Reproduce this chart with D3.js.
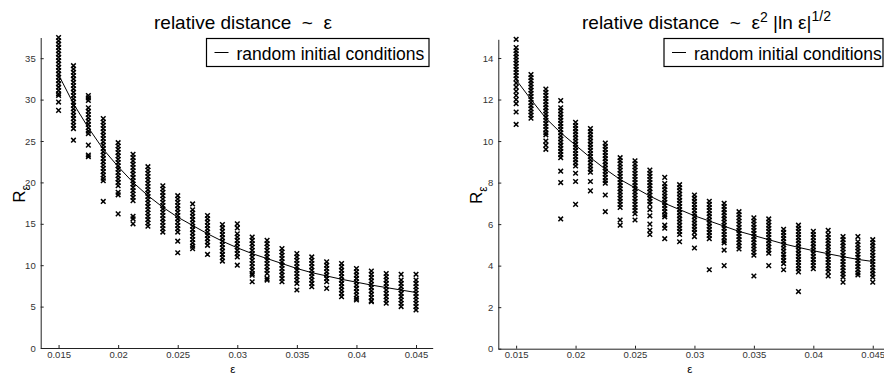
<!DOCTYPE html>
<html lang="en">
<head>
<meta charset="utf-8">
<title>R_eps scatter</title>
<script src="https://d3js.org/d3.v7.min.js"></script>
<style>
  body { margin: 0; background: #fff; }
  svg { display: block; font-family: "Liberation Sans", Arial, sans-serif; }
  text { white-space: pre; }
</style>
</head>
<body>
<svg width="884" height="375"></svg>
<script>
// epsilon values (columns)
const eps = [0.015, 0.01625, 0.0175, 0.01875, 0.02, 0.02125, 0.0225, 0.02375, 0.025,
             0.02625, 0.0275, 0.02875, 0.03, 0.03125, 0.0325, 0.03375, 0.035, 0.03625,
             0.0375, 0.03875, 0.04, 0.04125, 0.0425, 0.04375, 0.045];

// fitted curves
const fitLeft  = [33.0, 29.5, 26.6, 24.0, 21.9, 20.0, 18.4, 17.0, 15.8, 14.8, 13.8, 12.9, 12.1,
                  11.4, 10.8, 10.2, 9.6, 9.1, 8.7, 8.3, 7.95, 7.6, 7.3, 7.0, 6.7];
const fitRight = [12.95, 12.0, 11.1, 10.4, 9.8, 9.2, 8.65, 8.15, 7.75, 7.35, 7.0, 6.7, 6.4,
                  6.15, 5.9, 5.65, 5.45, 5.25, 5.05, 4.88, 4.72, 4.57, 4.43, 4.3, 4.2];

// R_eps for random initial conditions, one list per epsilon (left: ~eps)
const ptsLeft = [
  [37.5,37.1,36.7,36.3,35.9,35.5,35.1,34.7,34.3,33.9,33.5,33.1,32.7,32.3,31.9,31.5,31.1,30.7,30.5,29.7,28.7],
  [34.1,33.7,33.3,32.9,32.5,32.1,31.7,31.3,30.9,30.5,30.1,29.7,29.3,28.9,28.5,28.1,27.7,27.3,26.9,26.5,25.1],
  [30.5,30.2,29.9,29.0,28.6,28.2,27.8,27.4,27.0,26.6,26.2,25.9,24.5,23.3,23.1],
  [27.7,27.3,26.9,26.5,26.1,25.7,25.3,24.9,24.5,24.1,23.7,23.3,22.9,22.5,22.1,21.7,21.3,20.9,20.5,20.2,17.7],
  [24.8,24.4,24.0,23.6,23.2,22.8,22.4,22.0,21.6,21.2,20.8,20.4,20.0,19.6,18.8,18.5,16.2],
  [23.4,23.0,22.6,22.2,21.8,21.4,21.0,20.6,20.2,19.8,19.4,19.0,18.6,18.2,17.8,15.9,15.6,15.0],
  [21.9,21.5,21.1,20.7,20.3,19.9,19.5,19.1,18.7,18.3,17.9,17.5,17.1,16.7,16.3,15.9,15.5,15.1,14.7],
  [19.6,19.2,18.8,18.4,18.0,17.6,17.2,16.8,16.4,16.0,15.6,15.2,14.8,14.4,14.0],
  [18.4,18.0,17.6,17.2,16.8,16.4,16.0,15.6,15.2,14.8,14.4,14.0,12.9,11.5],
  [17.4,16.7,16.3,15.9,15.5,15.1,14.7,14.3,13.9,13.5,13.1,12.7,12.3,12.0],
  [16.0,15.6,15.2,14.8,14.4,14.0,13.6,13.2,12.8,12.4,11.3],
  [14.9,14.5,14.1,13.7,13.3,12.9,12.5,12.1,11.7,11.3,10.9,10.5],
  [15.0,14.5,13.8,13.4,13.0,12.6,12.2,11.8,11.4,11.0,10.0],
  [13.4,13.0,12.6,12.2,11.8,11.4,11.0,10.6,10.2,9.8,9.4,9.0,8.8,8.0],
  [13.0,12.6,12.2,11.8,11.4,11.0,10.6,10.2,9.8,9.4,9.0,8.4,8.2],
  [12.0,11.6,11.2,10.8,10.4,10.0,9.6,9.2,8.8,8.4,8.0],
  [11.4,11.0,10.6,10.2,9.8,9.4,9.0,8.6,8.2,7.8,7.0],
  [11.0,10.6,10.2,9.8,9.4,9.0,8.6,8.2,7.8,7.4],
  [10.4,10.0,9.6,9.2,8.8,8.4,8.0,7.2],
  [10.2,9.8,9.4,9.0,8.6,8.2,7.8,7.4,7.0,6.6,6.2],
  [9.6,9.2,8.8,8.4,8.0,7.6,7.2,6.8,6.4,6.0,5.8],
  [9.3,8.9,8.5,8.1,7.7,7.3,6.9,6.5,6.1,5.7,5.6],
  [9.0,8.6,8.2,7.8,7.4,7.0,6.6,6.2,5.8,5.4],
  [8.9,8.2,7.8,7.4,7.0,6.6,6.2,5.8,5.4,5.0],
  [8.9,8.2,7.8,7.4,7.0,6.6,6.2,5.8,5.4,5.0,4.6]
];

// right: ~eps^2 |ln eps|^1/2
const ptsRight = [
  [14.9,14.5,14.35,14.2,14.05,13.9,13.75,13.6,13.45,13.3,13.15,13.0,12.8,12.6,12.4,12.2,12.0,11.8,11.4,10.8],
  [13.2,13.05,12.9,12.75,12.6,12.45,12.3,12.15,12.0,11.85,11.7,11.55,11.4,11.25,11.1],
  [12.5,12.35,12.2,12.05,11.9,11.75,11.6,11.45,11.3,11.15,11.0,10.85,10.7,10.55,10.4,10.3,10.0,9.8,9.6],
  [11.95,11.6,11.45,11.3,11.15,11.0,10.85,10.7,10.55,10.4,10.25,10.1,9.95,9.8,9.65,9.5,9.35,9.2,8.55,8.0,6.25],
  [10.9,10.75,10.6,10.45,10.3,10.15,10.0,9.85,9.7,9.55,9.4,9.25,9.1,8.95,8.8,8.45,8.05,6.95],
  [10.6,10.45,10.3,10.15,10.0,9.85,9.7,9.55,9.4,9.25,9.1,8.95,8.8,8.65,8.5,8.05,7.6],
  [9.9,9.75,9.6,9.45,9.3,9.15,9.0,8.85,8.7,8.55,8.4,8.25,8.1,7.97,7.4,6.6],
  [9.2,9.05,8.9,8.75,8.6,8.45,8.3,8.15,8.0,7.85,7.7,7.55,7.4,7.25,7.1,6.95,6.8,6.2,5.95],
  [9.05,8.9,8.75,8.6,8.45,8.3,8.15,8.0,7.85,7.7,7.55,7.4,7.25,7.1,6.95,6.8,6.65,6.5,6.2],
  [8.6,8.45,8.3,8.15,8.0,7.85,7.7,7.55,7.4,7.25,7.1,6.95,6.7,6.4,6.0,5.7,5.5],
  [8.25,7.95,7.8,7.65,7.5,7.35,7.2,7.05,6.9,6.75,6.6,6.45,6.35,5.95,5.8,5.3],
  [7.9,7.75,7.6,7.45,7.3,7.15,7.0,6.85,6.7,6.55,6.4,6.25,6.1,5.95,5.8,5.65,5.5,5.15],
  [7.4,7.25,7.1,6.95,6.8,6.65,6.5,6.35,6.2,6.05,5.9,5.75,5.6,5.4,4.85],
  [7.1,6.95,6.8,6.65,6.5,6.35,6.2,6.05,5.9,5.75,5.6,5.45,5.3,3.8],
  [7.0,6.85,6.7,6.55,6.4,6.25,6.1,5.95,5.8,5.65,5.5,5.35,5.2,5.1,4.75,4.0],
  [6.6,6.45,6.3,6.15,6.0,5.85,5.7,5.55,5.4,5.25,5.1,4.95,4.8],
  [6.3,6.15,6.0,5.85,5.7,5.55,5.4,5.25,5.1,4.95,4.8,4.65,4.5,3.5],
  [6.25,6.1,5.95,5.8,5.65,5.5,5.35,5.2,5.05,4.9,4.75,4.6,4.0],
  [5.75,5.6,5.45,5.3,5.15,5.0,4.85,4.7,4.55,4.4,4.25,4.1,3.8],
  [5.95,5.8,5.65,5.5,5.35,5.2,5.05,4.9,4.75,4.6,4.45,4.3,4.15,4.0,3.85,3.7,2.75],
  [5.65,5.5,5.35,5.2,5.05,4.9,4.75,4.6,4.45,4.3,4.15,4.0,3.85],
  [5.7,5.5,5.35,5.2,5.05,4.9,4.75,4.6,4.45,4.3,4.15,4.0,3.85,3.7,3.5],
  [5.4,5.25,5.1,4.95,4.8,4.65,4.5,4.35,4.2,4.05,3.9,3.75,3.6,3.45,3.2],
  [5.4,5.15,5.0,4.85,4.7,4.55,4.4,4.25,4.1,3.95,3.8,3.65,3.55],
  [5.25,5.1,4.95,4.8,4.65,4.5,4.35,4.2,4.05,3.9,3.75,3.6,3.45,3.2]
];

const xTicks = [0.015, 0.02, 0.025, 0.03, 0.035, 0.04, 0.045];
const xTickLabels = ["0.015", "0.02", "0.025", "0.03", "0.035", "0.04", "0.045"];
const yTicksLeft = [0, 5, 10, 15, 20, 25, 30, 35];
const yTicksRight = [0, 2, 4, 6, 8, 10, 12, 14];
const legendLabel = "random initial conditions";

const svg = d3.select("svg");

function drawPanel(o) {
  const g = svg.append("g");
  const x = d3.scaleLinear().domain([0.0135, 0.0464]).range([o.x0, o.x1]);
  const y = d3.scaleLinear().domain([0, o.yMax]).range([o.yBase, o.yTop]);

  // axes, MATLAB style: ticks pointing inward, no box
  const ax = g.append("g").attr("transform", `translate(0,${o.yBase})`)
    .call(d3.axisBottom(x).tickValues(xTicks).tickSize(-3).tickSizeOuter(0)
      .tickPadding(3).tickFormat((d, i) => xTickLabels[i]));
  const ay = g.append("g").attr("transform", `translate(${o.x0},0)`)
    .call(d3.axisLeft(y).tickValues(o.yTicks).tickSize(-3).tickSizeOuter(0).tickPadding(5));
  [ax, ay].forEach(a => {
    a.selectAll("text").attr("font-size", 9.5).attr("fill", "#333")
      .attr("font-family", "Liberation Sans, Arial, sans-serif");
    a.select(".domain").attr("stroke", "#222");
    a.selectAll(".tick line").attr("stroke", "#222");
  });

  // markers
  const pts = [];
  o.pts.forEach((col, i) => col.forEach(v => pts.push([eps[i], v])));
  g.append("g").selectAll("path").data(pts).join("path")
    .attr("transform", d => `translate(${x(d[0])},${y(d[1])})`)
    .attr("d", "M-2.3,-2.3L2.3,2.3M-2.3,2.3L2.3,-2.3")
    .attr("stroke", "#000").attr("stroke-width", 1.5).attr("fill", "none");

  // fitted curve
  g.append("path").datum(o.fit)
    .attr("d", d3.line().x((d, i) => x(eps[i])).y(d => y(d)))
    .attr("fill", "none").attr("stroke", "#000").attr("stroke-width", 1);

  // axis labels
  const yl = g.append("text")
    .attr("transform", `translate(${o.x0 - 16},${(o.yBase + o.yTop) / 2 + 10}) rotate(-90)`)
    .attr("font-size", 17);
  yl.append("tspan").text("R");
  yl.append("tspan").attr("font-size", 12).attr("dy", 5).text("ε");

  g.append("text").attr("x", (o.x0 + o.x1) / 2 - 4).attr("y", 373)
    .attr("text-anchor", "middle").attr("font-size", 11.5).text("ε");

  // title
  const t = g.append("text").attr("x", o.titleX).attr("y", 29).attr("font-size", 19);
  o.title.forEach(p => t.append("tspan").attr("dy", p.dy || 0)
    .attr("font-size", p.sup ? 14 : null).text(p.s));

  // legend
  const lg = g.append("g").attr("transform", `translate(${o.legX},38.5)`);
  lg.append("rect").attr("width", o.legW).attr("height", 28)
    .attr("fill", "#fff").attr("stroke", "#000").attr("stroke-width", 1.2);
  lg.append("line").attr("x1", 8).attr("x2", 22).attr("y1", 14).attr("y2", 14)
    .attr("stroke", "#000").attr("stroke-width", 1);
  lg.append("text").attr("x", 30).attr("y", 21).attr("font-size", 17.5).text(legendLabel);
}

drawPanel({
  x0: 40.7, x1: 432.7, yBase: 348, yTop: 37.5, yMax: 37.5, yTicks: yTicksLeft,
  pts: ptsLeft, fit: fitLeft, titleX: 154,
  title: [{s: "relative distance  ~  ε"}],
  legX: 206.5, legW: 222.5
});

drawPanel({
  x0: 498.3, x1: 889.4, yBase: 348.7, yTop: 39.3, yMax: 14.9, yTicks: yTicksRight,
  pts: ptsRight, fit: fitRight, titleX: 582,
  title: [{s: "relative distance  ~  ε"}, {s: "2", sup: true, dy: -7},
          {s: " |ln ε|", dy: 7}, {s: "1/2", sup: true, dy: -8}],
  legX: 664, legW: 219
});
</script>
</body>
</html>
